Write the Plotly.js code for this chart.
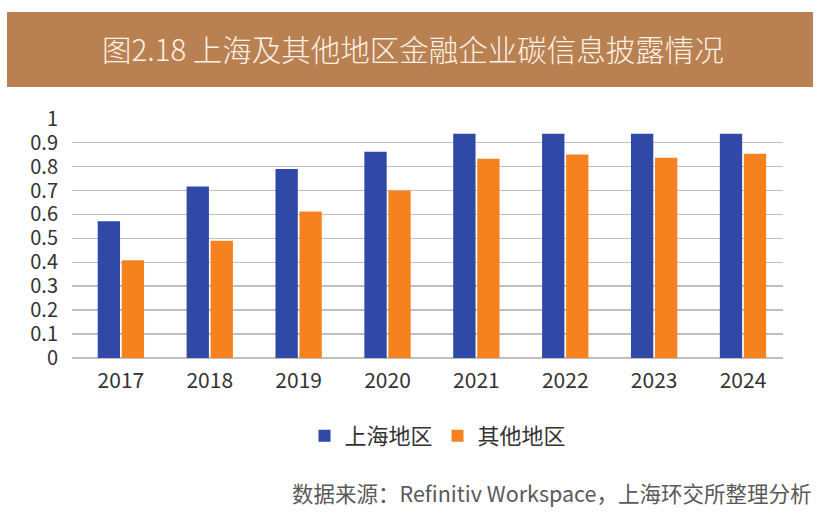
<!DOCTYPE html>
<html>
<head>
<meta charset="utf-8">
<script src="https://cdn.plot.ly/plotly-3.0.1.min.js"></script>
<style>html,body{margin:0;padding:0;background:#fff;}#chart{width:831px;height:519px;}</style>
</head>
<body>
<div id="chart"></div>
<script>
const years = ['2017','2018','2019','2020','2021','2022','2023','2024'];
const shanghai = [0.571, 0.717, 0.790, 0.862, 0.937, 0.937, 0.937, 0.937];
const others = [0.408, 0.490, 0.612, 0.700, 0.833, 0.850, 0.837, 0.854];
const seriesNames = ['上海地区', '其他地区'];
const yTicks = [0, 0.1, 0.2, 0.3, 0.4, 0.5, 0.6, 0.7, 0.8, 0.9, 1];
const yTickText = ['0','0.1','0.2','0.3','0.4','0.5','0.6','0.7','0.8','0.9','1'];
const titleText = '图2.18 上海及其他地区金融企业碳信息披露情况';
const sourceText = '数据来源：Refinitiv Workspace，上海环交所整理分析';

const FONT = '"Noto Sans CJK SC", "Noto Sans", sans-serif';
const W = 831, H = 519;
const L = 72, R = 783, T = 118, B = 358;
const px = x => (x - L) / (R - L);
const py = y => (B - y) / (B - T);

const traces = [
  {type:'bar', name: seriesNames[0], x: years, y: shanghai, marker:{color:'#3049A6'}},
  {type:'bar', name: seriesNames[1], x: years, y: others, marker:{color:'#F5821F'}}
];

const layout = {
  width: W, height: H,
  margin: {l: L, r: W - R, t: T, b: H - B, pad: 0},
  paper_bgcolor: '#ffffff', plot_bgcolor: '#ffffff',
  font: {family: FONT, color: '#333333', size: 20},
  barmode: 'group', bargap: 0.46, bargroupgap: 0.07,
  showlegend: true,
  legend: {orientation: 'h', x: px(438), xanchor: 'center', y: py(436), yanchor: 'middle',
           font: {size: 22, color: '#333333', family: FONT}, itemwidth: 30, traceorder: 'normal'},
  xaxis: {type: 'category', range: [-0.55, 7.45], showgrid: false, zeroline: false, showline: false, ticks: '',
          tickfont: {size: 21, color: '#333333', family: FONT}, ticklabelstandoff: 8},
  yaxis: {range: [0, 1.003], tickvals: yTicks, ticktext: yTickText, showgrid: true,
          gridcolor: '#BFBFBF', gridwidth: 1.5, zeroline: true, zerolinecolor: '#BFBFBF', zerolinewidth: 1.5,
          showline: false, ticks: '', tickfont: {size: 20, color: '#333333', family: FONT}, ticklabelstandoff: 13},
  shapes: [
    {type: 'rect', xref: 'paper', yref: 'paper', x0: px(7), x1: px(813), y0: py(87), y1: py(12),
     fillcolor: '#B98152', line: {width: 0}, layer: 'below'}
  ],
  annotations: [
    {xref: 'paper', yref: 'paper', x: px(413), y: py(48), xanchor: 'center', yanchor: 'middle',
     text: titleText, showarrow: false, font: {family: FONT, size: 29.5, color: '#FBF1E6', weight: 300}},
    {xref: 'paper', yref: 'paper', x: px(813), y: py(492), xanchor: 'right', yanchor: 'middle',
     text: sourceText, showarrow: false, font: {family: FONT, size: 21.5, color: '#595959'}}
  ]
};

Plotly.newPlot('chart', traces, layout, {displayModeBar: false, staticPlot: true});
</script>
</body>
</html>
